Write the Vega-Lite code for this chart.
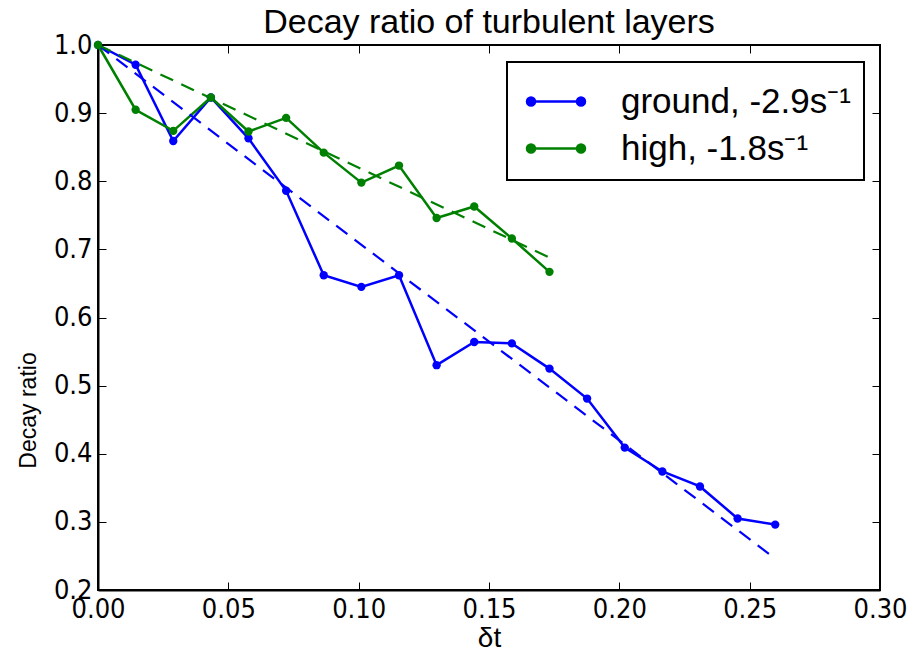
{
  "$schema": "https://vega.github.io/schema/vega-lite/v6.json",
  "width": 782,
  "height": 545,
  "autosize": {"type": "none"},
  "padding": {"left": 98, "top": 45, "right": 32, "bottom": 71},
  "background": "white",
  "title": {
    "text": "Decay ratio of turbulent layers",
    "font": "Liberation Sans",
    "fontSize": 34,
    "fontWeight": "normal",
    "color": "black",
    "anchor": "middle",
    "offset": -9
  },
  "config": {
    "view": {"stroke": "black", "strokeWidth": 2},
    "axis": {
      "grid": false,
      "domainColor": "black",
      "domainWidth": 2,
      "tickColor": "black",
      "tickWidth": 1,
      "tickSize": -8,
      "labelColor": "black",
      "labelFont": "DejaVu Sans Condensed, DejaVu Sans",
      "labelFontSize": 27,
      "titleColor": "black",
      "titleFont": "Liberation Sans",
      "titleFontWeight": "normal"
    }
  },
  "data": {
    "values": [
      {"series": "ground, -2.9s⁻¹", "kind": "data", "x": 0.0, "y": 1.0},
      {"series": "ground, -2.9s⁻¹", "kind": "data", "x": 0.01443, "y": 0.971},
      {"series": "ground, -2.9s⁻¹", "kind": "data", "x": 0.02887, "y": 0.859},
      {"series": "ground, -2.9s⁻¹", "kind": "data", "x": 0.0433, "y": 0.923},
      {"series": "ground, -2.9s⁻¹", "kind": "data", "x": 0.05773, "y": 0.863},
      {"series": "ground, -2.9s⁻¹", "kind": "data", "x": 0.07217, "y": 0.786},
      {"series": "ground, -2.9s⁻¹", "kind": "data", "x": 0.0866, "y": 0.662},
      {"series": "ground, -2.9s⁻¹", "kind": "data", "x": 0.10103, "y": 0.645},
      {"series": "ground, -2.9s⁻¹", "kind": "data", "x": 0.11547, "y": 0.662},
      {"series": "ground, -2.9s⁻¹", "kind": "data", "x": 0.1299, "y": 0.53},
      {"series": "ground, -2.9s⁻¹", "kind": "data", "x": 0.14433, "y": 0.564},
      {"series": "ground, -2.9s⁻¹", "kind": "data", "x": 0.15877, "y": 0.562},
      {"series": "ground, -2.9s⁻¹", "kind": "data", "x": 0.1732, "y": 0.525},
      {"series": "ground, -2.9s⁻¹", "kind": "data", "x": 0.18763, "y": 0.481},
      {"series": "ground, -2.9s⁻¹", "kind": "data", "x": 0.20207, "y": 0.409},
      {"series": "ground, -2.9s⁻¹", "kind": "data", "x": 0.2165, "y": 0.374},
      {"series": "ground, -2.9s⁻¹", "kind": "data", "x": 0.23093, "y": 0.352},
      {"series": "ground, -2.9s⁻¹", "kind": "data", "x": 0.24537, "y": 0.305},
      {"series": "ground, -2.9s⁻¹", "kind": "data", "x": 0.2598, "y": 0.296},
      {"series": "high, -1.8s⁻¹", "kind": "data", "x": 0.0, "y": 1.0},
      {"series": "high, -1.8s⁻¹", "kind": "data", "x": 0.01443, "y": 0.905},
      {"series": "high, -1.8s⁻¹", "kind": "data", "x": 0.02887, "y": 0.874},
      {"series": "high, -1.8s⁻¹", "kind": "data", "x": 0.0433, "y": 0.923},
      {"series": "high, -1.8s⁻¹", "kind": "data", "x": 0.05773, "y": 0.873},
      {"series": "high, -1.8s⁻¹", "kind": "data", "x": 0.07217, "y": 0.893},
      {"series": "high, -1.8s⁻¹", "kind": "data", "x": 0.0866, "y": 0.842},
      {"series": "high, -1.8s⁻¹", "kind": "data", "x": 0.10103, "y": 0.798},
      {"series": "high, -1.8s⁻¹", "kind": "data", "x": 0.11547, "y": 0.823},
      {"series": "high, -1.8s⁻¹", "kind": "data", "x": 0.1299, "y": 0.746},
      {"series": "high, -1.8s⁻¹", "kind": "data", "x": 0.14433, "y": 0.763},
      {"series": "high, -1.8s⁻¹", "kind": "data", "x": 0.15877, "y": 0.716},
      {"series": "high, -1.8s⁻¹", "kind": "data", "x": 0.1732, "y": 0.667},
      {"series": "ground, -2.9s⁻¹", "kind": "fit", "x": 0.0, "y": 1.0},
      {"series": "ground, -2.9s⁻¹", "kind": "fit", "x": 0.2598, "y": 0.246},
      {"series": "high, -1.8s⁻¹", "kind": "fit", "x": 0.0, "y": 1.0},
      {"series": "high, -1.8s⁻¹", "kind": "fit", "x": 0.1732, "y": 0.688}
    ]
  },
  "encoding": {
    "x": {"field": "x", "type": "quantitative", "scale": {"domain": [0, 0.3], "nice": false, "zero": false}},
    "y": {"field": "y", "type": "quantitative", "scale": {"domain": [0.2, 1.0], "nice": false, "zero": false}},
    "color": {
      "field": "series",
      "type": "nominal",
      "scale": {"domain": ["ground, -2.9s⁻¹", "high, -1.8s⁻¹"], "range": ["#0000ff", "#008000"]},
      "legend": {
        "orient": "none",
        "legendX": 409,
        "legendY": 17,
        "title": null,
        "fillColor": "white",
        "strokeColor": "black",
        "padding": 13,
        "cornerRadius": 0,
        "symbolType": "M-0.62,0L1.38,0M-0.78,0A0.16,0.16,0,1,0,-0.46,0A0.16,0.16,0,1,0,-0.78,0M1.22,0A0.16,0.16,0,1,0,1.54,0A0.16,0.16,0,1,0,1.22,0",
        "symbolSize": 2500,
        "symbolStrokeWidth": 2.5,
        "labelFont": "Liberation Sans",
        "labelFontSize": 35,
        "labelColor": "black",
        "labelOffset": 48,
        "labelLimit": 0,
        "rowPadding": 2,
        "encode": {
          "legend": {
            "update": {
              "strokeWidth": {"value": 2}
            }
          },
          "symbols": {
            "update": {
              "fill": {"scale": "color", "field": "value"},
              "stroke": {"scale": "color", "field": "value"},
              "fillOpacity": {"value": 1}
            }
          }
        }
      }
    }
  },
  "layer": [
    {
      "transform": [{"filter": "datum.kind === 'data'"}],
      "mark": {"type": "line", "strokeWidth": 2.5},
      "encoding": {
        "x": {"field": "x", "type": "quantitative", "axis": {"orient": "bottom", "values": [0, 0.05, 0.1, 0.15, 0.2, 0.25, 0.3], "format": ".2f", "labelPadding": 14, "title": "δt", "titleFontSize": 28, "titlePadding": 2, "labelFlush": false}},
        "y": {"field": "y", "type": "quantitative", "axis": {"orient": "left", "values": [0.2, 0.3, 0.4, 0.5, 0.6, 0.7, 0.8, 0.9, 1.0], "format": ".1f", "labelPadding": 14, "title": "Decay ratio", "titleFontSize": 23, "titleAngle": -90, "titleX": -70, "titleY": 365, "titleAlign": "center", "titleBaseline": "middle", "labelFlush": false}}
      }
    },
    {
      "transform": [{"filter": "datum.kind === 'fit'"}],
      "mark": {"type": "line", "strokeWidth": 2.2, "strokeDash": [14, 9], "clip": true},
      "encoding": {
        "x": {"field": "x", "type": "quantitative", "axis": {"orient": "top", "values": [0, 0.05, 0.1, 0.15, 0.2, 0.25, 0.3], "labels": false, "title": null, "domain": false}},
        "y": {"field": "y", "type": "quantitative", "axis": {"orient": "right", "values": [0.2, 0.3, 0.4, 0.5, 0.6, 0.7, 0.8, 0.9, 1.0], "labels": false, "title": null, "domain": false}}
      }
    },
    {
      "transform": [{"filter": "datum.kind === 'data'"}],
      "mark": {"type": "point", "filled": true, "size": 70, "opacity": 1},
      "encoding": {
        "x": {"field": "x", "type": "quantitative", "axis": null},
        "y": {"field": "y", "type": "quantitative", "axis": null}
      }
    }
  ],
  "resolve": {"axis": {"x": "independent", "y": "independent"}}
}
